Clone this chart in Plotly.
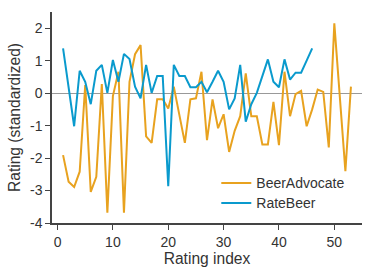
import plotly.graph_objects as go

beeradvocate = [-1.91, -2.73, -2.89, -2.42, 0.25, -3.04, -2.58, 0.28, -3.68, -0.09,
                0.66, -3.68, 0.35, 1.2, 1.48, -1.33, -1.53, -0.19, -0.19, -0.47,
                0.2, -0.67, -1.53, -0.19, -0.16, 0.66, -1.45, -0.19, -1.08, -0.65,
                -1.81, -1.16, -0.71, 0.61, -0.71, -0.71, -1.58, -1.58, -0.27, -1.6,
                0.66, -0.71, -0.03, 0.07, -1.02, -0.5, 0.11, 0.04, -1.67, 2.15,
                -0.1, -2.4, 0.2]
ratebeer = [1.38, 0.18, -1.02, 0.69, 0.35, -0.34, 0.69, 0.87, 0.01, 1.02,
            0.35, 1.21, 1.05, 0.2, -0.16, 0.87, 0.01, 0.53, 0.53, -2.87,
            0.87, 0.53, 0.53, 0.18, 0.18, 0.35, 0.03, 0.35, 0.69, 0.35,
            -0.5, -0.16, 0.87, -0.88, -0.34, 0.01, 0.53, 1.04, 0.35, 0.18,
            1.04, 0.42, 0.63, 0.63, 1.0, 1.38]
x_ba = list(range(1, len(beeradvocate) + 1))
x_rb = list(range(1, len(ratebeer) + 1))
y_tickvals = [2, 1, 0, -1, -2, -3, -4]
y_ticktext = ["2", "1", "0", "-1", "-2", "-3", "-4"]
x_tickvals = [0, 10, 20, 30, 40, 50]

ORANGE = "#E8A21F"
BLUE = "#0A9ACD"
AXIS = "#444444"
FONT = "Liberation Sans, Arial, sans-serif"

fig = go.Figure()
fig.add_trace(go.Scatter(x=x_ba, y=beeradvocate, mode="lines", name="BeerAdvocate",
                         line=dict(color=ORANGE, width=2), legend="legend"))
fig.add_trace(go.Scatter(x=x_rb, y=ratebeer, mode="lines", name="RateBeer",
                         line=dict(color=BLUE, width=2), legend="legend2"))

legend_style = dict(xanchor="left", yanchor="top", bgcolor="rgba(0,0,0,0)",
                    font=dict(size=14, color="#333333"))

fig.update_layout(
    width=374, height=276,
    margin=dict(l=52, r=12, t=12, b=53),
    paper_bgcolor="white", plot_bgcolor="white",
    font=dict(family=FONT, size=14, color="#333333"),
    showlegend=True,
    legend=dict(x=0.53, y=0.264, **legend_style),
    legend2=dict(x=0.53, y=0.169, **legend_style),
    xaxis=dict(range=[-1, 55], tickvals=x_tickvals, showgrid=False, zeroline=False,
               showline=True, linecolor=AXIS, linewidth=1.5, ticks="outside",
               ticklen=5, tickcolor=AXIS, tickfont=dict(size=14),
               title=dict(text="Rating index", font=dict(size=15.6), standoff=4)),
    yaxis=dict(range=[-4, 2.5], tickvals=y_tickvals, ticktext=y_ticktext,
               showgrid=False, zeroline=True, zerolinecolor="#999999", zerolinewidth=1,
               showline=True, linecolor=AXIS, linewidth=1.5, ticks="outside",
               ticklen=5, tickcolor=AXIS, tickfont=dict(size=14),
               title=dict(text="Rating (standardized)", font=dict(size=15.6), standoff=6)),
)

fig.write_html("out.html", config={"displayModeBar": False},
               post_script="document.body.style.margin='0';")
